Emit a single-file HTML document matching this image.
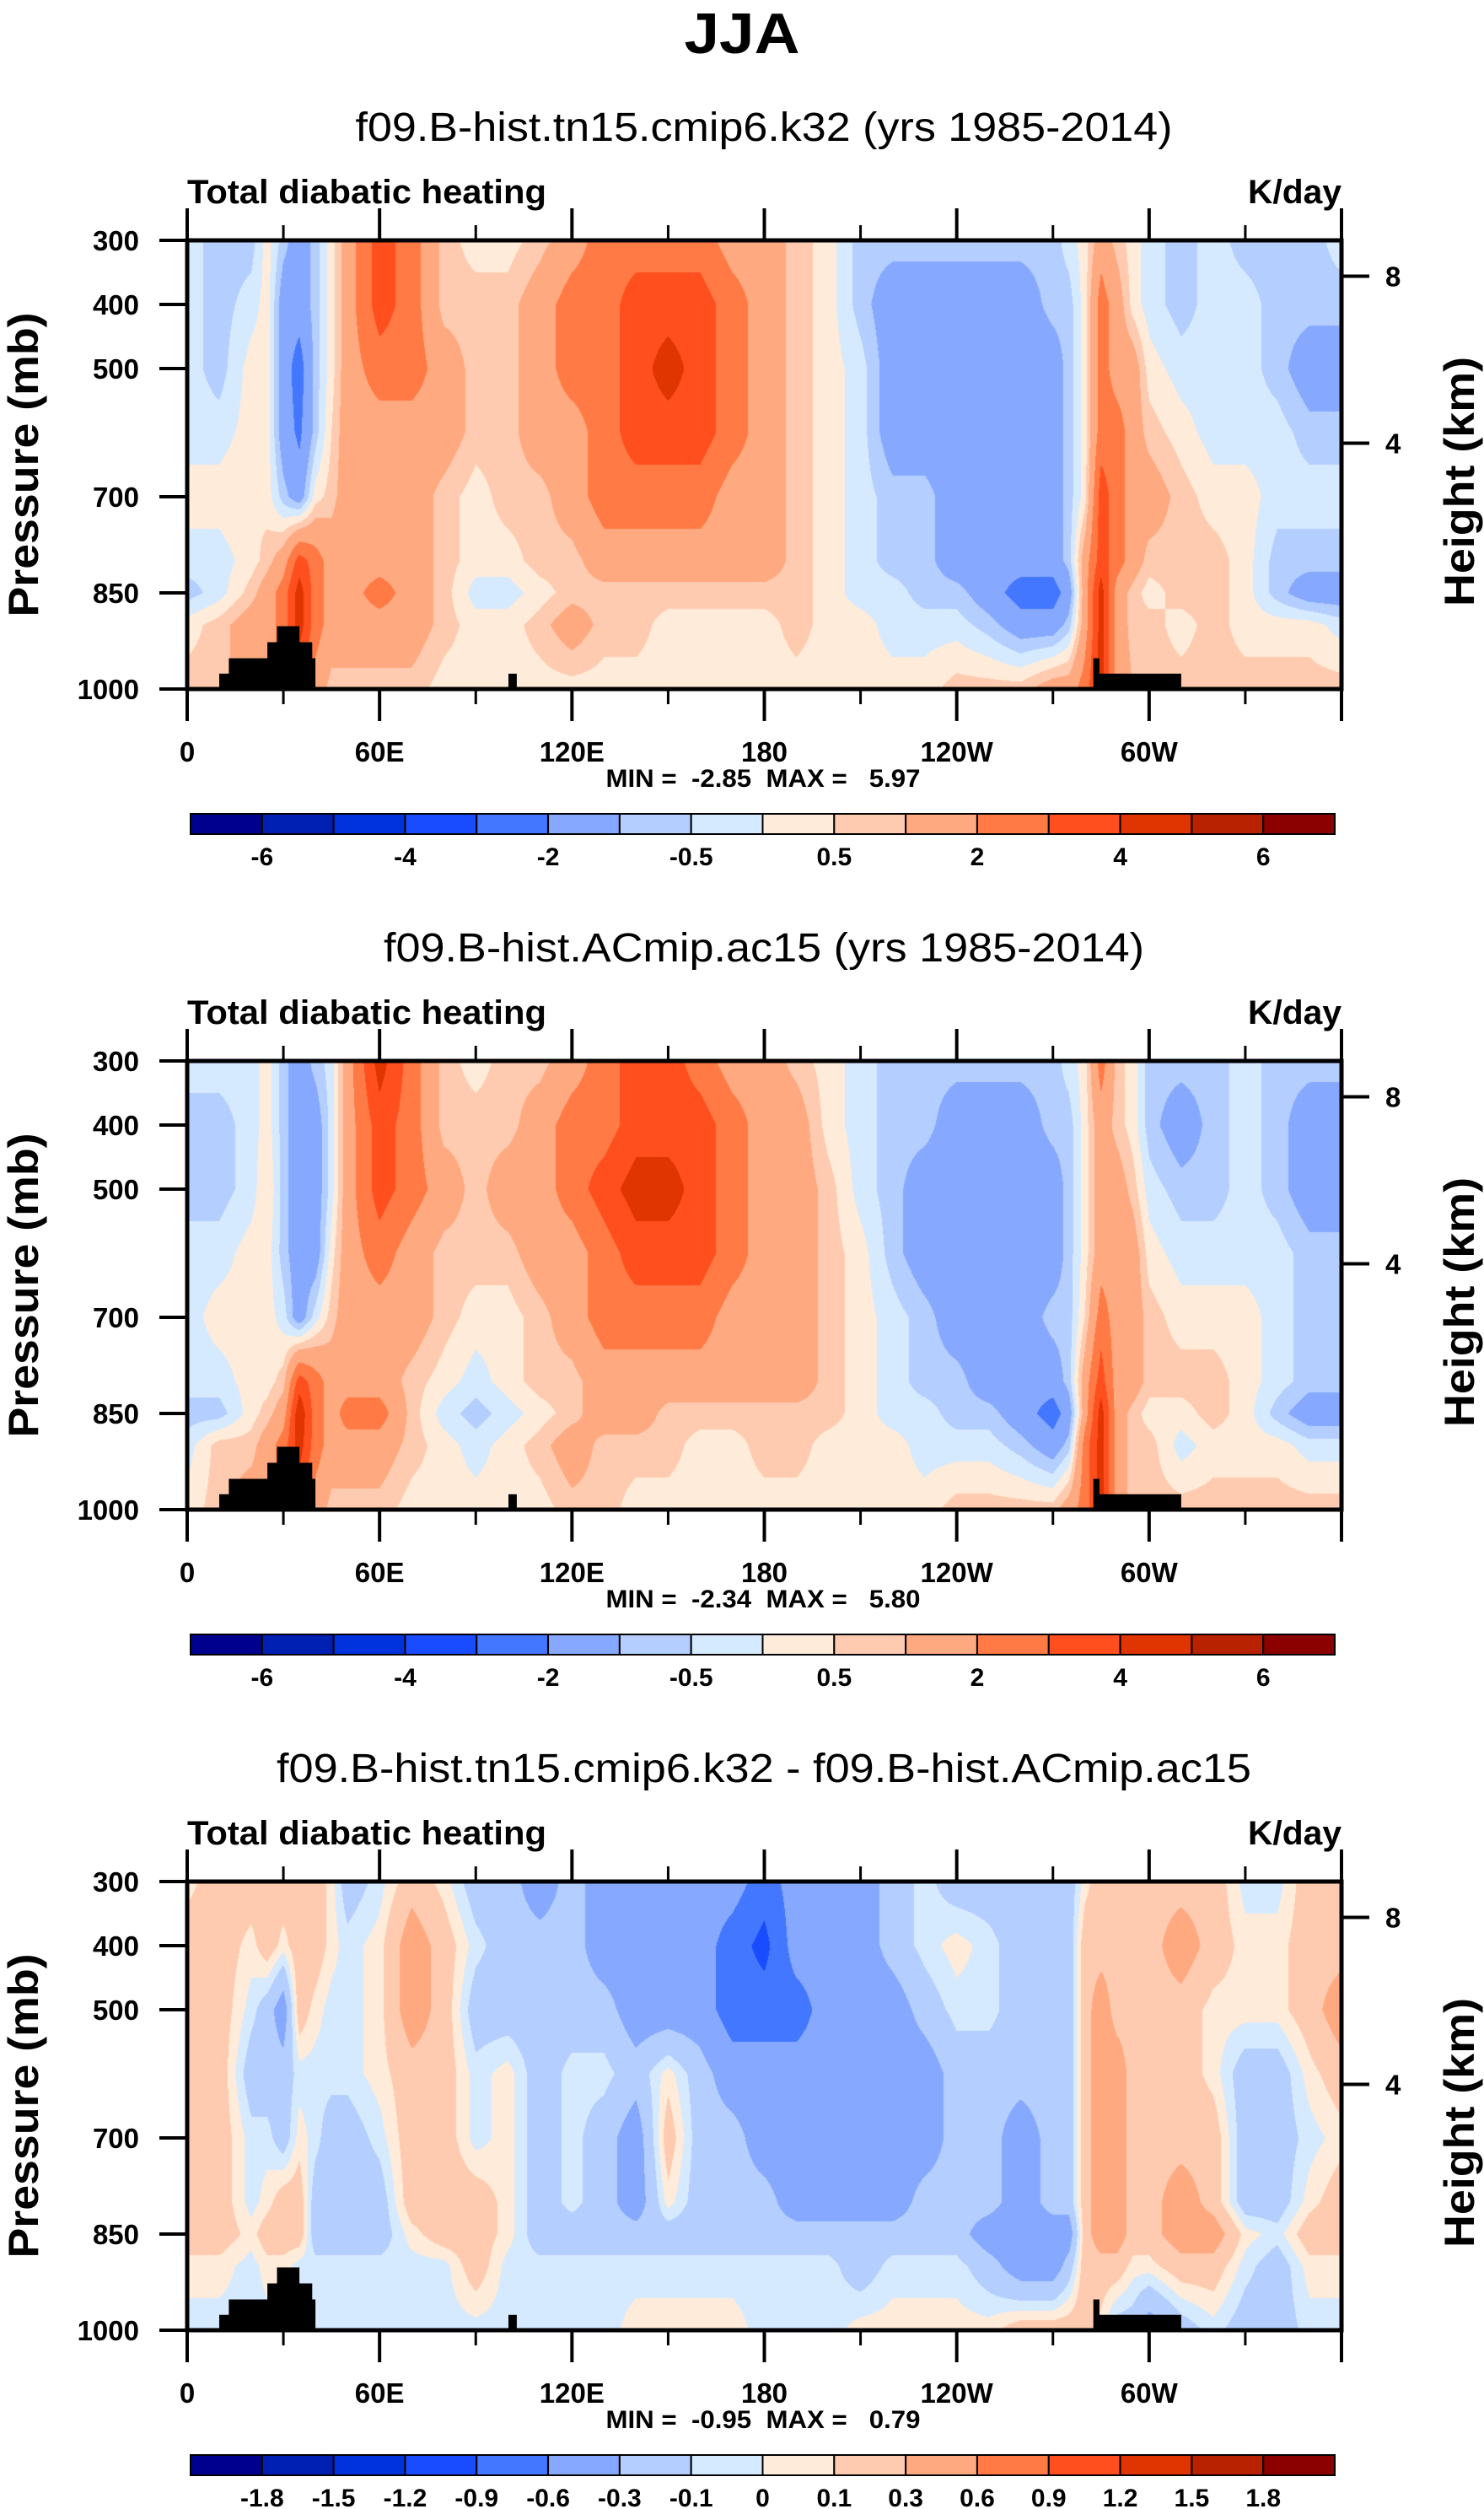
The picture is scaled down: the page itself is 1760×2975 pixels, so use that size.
<!DOCTYPE html>
<html><head><meta charset="utf-8"><title>JJA Total diabatic heating</title>
<style>
html,body{margin:0;padding:0;background:#fff;}
body{width:1760px;height:2975px;position:relative;overflow:hidden;font-family:"Liberation Sans",Arial,sans-serif;}
canvas{position:absolute;}
#fig{position:absolute;left:0;top:0;}
</style></head>
<body>
<canvas id="c1" width="1369" height="532" style="left:222px;top:285px"></canvas>
<canvas id="c2" width="1369" height="532" style="left:222px;top:1258px"></canvas>
<canvas id="c3" width="1369" height="532" style="left:222px;top:2231px"></canvas>
<svg id="fig" width="1760" height="2975" xmlns="http://www.w3.org/2000/svg">
<text x="880" y="63" text-anchor="middle" font-size="68" font-weight="bold" textLength="137" lengthAdjust="spacingAndGlyphs">JJA</text>
</svg>
<script>
const LON=[0,10,20,25,30,35,40,45,50,60,70,80,90,100,110,120,130,140,150,160,170,180,190,200,210,220,230,240,250,260,270,275,280,285,290,295,300,310,320,330,340,350,360];
const PLEV=[300,400,500,600,700,800,850,900,1000];
const heat1=[
[-0.25,-0.25,-0.25,-0.25,0.25,-0.25,-0.75,0.25,0.75],
[-0.75,-0.75,-0.75,-0.25,0.25,-0.25,-0.25,0.75,0.75],
[-0.75,-0.25,0.25,0.25,0.5,0.25,0.75,1.5,1.5],
[0.25,0.25,0.25,0.25,0.25,0.75,1.5,1.5,1.5],
[-0.75,-1.5,-1.5,-1.5,-0.75,1.5,2.5,2.5,2.5],
[-1.5,-1.5,-2.5,-2.2,-1.5,3.5,4.5,4.5,3],
[-0.75,-0.75,-0.75,-0.75,0.25,2.5,2.5,2.5,1.5],
[0.25,0.25,0.25,0.5,0.75,1.5,1.5,1.5,0.75],
[1.5,1.5,1.5,1.5,1.5,1.5,1.5,1.5,0.75],
[3.5,3.5,2.5,1.5,1.5,1.5,2.5,1.5,0.75],
[2.5,2.5,2.5,1.5,1.5,1.5,1.5,1.5,0.75],
[0.75,0.75,1.5,1.5,0.75,0.75,0.75,0.75,0.25],
[0.25,0.75,0.75,0.75,0.25,0.25,-0.25,0.25,0.25],
[0.25,0.75,0.75,0.75,0.75,0.25,-0.25,0.25,0.25],
[0.75,1.5,1.5,1.5,0.75,0.75,0.25,0.75,0.25],
[1.5,2.5,2.5,1.5,1.5,0.75,0.75,1.5,0.25],
[2.5,2.5,2.5,2.5,2.5,1.5,0.75,0.75,0.25],
[2.5,3.5,3.5,3.5,2.5,1.5,0.75,0.75,0.25],
[2.5,3.5,4.5,3.5,2.5,1.5,0.75,0.25,0.25],
[2.5,3.5,3.5,3.5,2.5,1.5,0.75,0.25,0.25],
[1.5,2.5,2.5,2.5,1.5,1.5,0.75,0.25,0.25],
[1.5,1.5,1.5,1.5,1.5,1.5,0.75,0.25,0.25],
[0.75,0.75,0.75,0.75,0.75,0.75,0.75,0.75,0.25],
[0.25,0.25,0.25,0.25,0.25,0.25,0.25,0.25,0.25],
[-0.75,-0.75,-0.25,-0.25,-0.25,-0.25,-0.25,0.25,0.25],
[-0.75,-1.5,-1.5,-1.5,-0.75,-0.75,-0.25,-0.25,0.25],
[-0.75,-1.5,-1.5,-1.5,-0.75,-0.75,-0.75,-0.25,0.25],
[-0.75,-1.5,-1.5,-1.5,-1.5,-1.5,-0.75,-0.25,0.75],
[-0.75,-1.5,-1.5,-1.5,-1.5,-1.5,-1.5,-0.75,0.75],
[-0.75,-1.5,-1.5,-1.5,-1.5,-1.5,-2.5,-1.5,0.75],
[-0.75,-0.75,-1.5,-1.5,-1.5,-1.5,-2.5,-1.5,1.5],
[-0.25,-0.75,-0.75,-0.75,-0.75,-0.75,-1.5,-0.75,1.5],
[0.25,0.25,0.25,0.25,0.25,1.5,1.5,1.5,2.5],
[1.5,2.5,2.5,2.5,3.5,3.5,4.5,4.5,4.5],
[0.75,1.5,1.5,2.5,2.5,2.5,1.5,1.5,1.5],
[0.25,0.25,1.5,1.5,1.5,1.5,0.75,0.75,1],
[-0.25,-0.25,0.25,0.75,1.5,0.75,0.25,0.75,0.75],
[-0.75,-0.75,-0.25,0.25,0.75,0.75,0.75,0.25,0.75],
[-0.25,-0.25,-0.25,-0.25,0.25,0.75,0.75,0.75,0.75],
[-0.75,-0.25,-0.25,-0.25,0.25,0.25,0.25,0.25,0.75],
[-0.75,-0.75,-0.75,-0.25,-0.25,-0.75,-0.75,0.25,0.75],
[-0.75,-0.75,-1.5,-0.75,-0.25,-0.75,-1.5,0.25,0.75],
[-0.25,-0.75,-1.5,-0.75,-0.25,-0.75,-1.5,-0.25,0.75]];
const heat2=[
[-0.25,-0.75,-0.75,-0.25,-0.25,-0.25,-0.75,-0.25,0.25],
[-0.25,-0.75,-0.75,-0.25,0.25,-0.25,-0.75,0.75,0.75],
[-0.25,-0.25,-0.25,0.25,0.25,0.25,0.25,0.75,1.5],
[0.25,0.25,0.5,0.25,0.25,0.25,0.75,1.5,1.5],
[-0.75,-0.75,-0.75,-0.75,-0.25,0.75,1.5,2.5,2.5],
[-1.5,-1.5,-1.5,-1.5,-1.5,3.5,4.8,4.5,3],
[-0.75,-1.5,-1.5,-1.5,-0.25,2.5,2.5,2.5,1.5],
[-0.25,-0.25,-0.25,0.25,0.75,1.5,1.5,1.5,0.75],
[1.5,1.5,1.5,1.5,1.5,1.5,2.5,1.5,0.75],
[4.5,3.5,3.5,2.5,1.5,1.5,2.5,1.5,0.75],
[2.5,2.5,2.5,1.5,1.5,0.75,0.75,0.75,0.25],
[0.75,0.75,1.5,0.75,0.75,0.25,-0.25,0.25,0.25],
[0.25,0.75,0.75,0.75,0.25,-0.25,-0.75,-0.25,0.25],
[0.75,0.75,1.5,0.75,0.25,0.25,-0.25,0.25,0.25],
[0.75,1.5,1.5,1.5,0.75,0.75,0.25,0.75,0.25],
[1.5,2.5,2.5,1.5,1.5,0.75,0.75,1.5,0.75],
[2.5,2.5,3.5,2.5,2.5,1.5,1.5,0.75,0.75],
[3.5,3.5,4.5,3.5,2.5,1.5,1.5,0.75,0.25],
[3.5,3.5,4.5,3.5,2.5,1.5,0.75,0.75,0.25],
[2.5,3.5,3.5,3.5,2.5,1.5,0.75,0.25,0.25],
[1.5,2.5,2.5,2.5,1.5,1.5,0.75,0.25,0.25],
[1.5,1.5,1.5,1.5,1.5,1.5,0.75,0.75,0.25],
[0.75,1.5,1.5,1.5,1.5,1.5,0.75,0.75,0.25],
[0.25,0.25,0.75,0.75,0.75,0.75,0.75,0.25,0.25],
[-0.25,-0.25,-0.25,0.25,0.25,0.25,0.25,0.25,0.25],
[-0.75,-0.75,-0.75,-0.75,-0.25,-0.25,-0.25,0.25,0.25],
[-0.75,-0.75,-1.5,-1.5,-0.75,-0.75,-0.25,-0.25,0.25],
[-0.75,-1.5,-1.5,-1.5,-1.5,-0.75,-0.75,-0.25,0.75],
[-0.75,-1.5,-1.5,-1.5,-1.5,-1.5,-0.75,-0.25,0.75],
[-0.75,-1.5,-1.5,-1.5,-1.5,-1.5,-1.5,-0.75,0.75],
[-0.75,-0.75,-1.5,-1.5,-0.75,-1.5,-2.5,-1.5,0.75],
[-0.25,-0.75,-0.75,-0.75,-0.75,-0.75,-1.5,-0.75,1.5],
[0.25,0.25,0.25,0.25,0.5,1.5,1.5,2.5,2.5],
[2.5,1.5,1.5,1.5,2.5,3.5,4.5,4.5,4.5],
[0.75,0.75,1.5,1.5,1.5,1.5,1.5,1.5,1.5],
[0.25,0.25,0.75,1.5,1.5,1.5,0.75,0.75,0.75],
[-0.75,-0.75,-0.25,0.25,0.75,0.75,0.25,0.75,0.75],
[-0.75,-1.5,-0.75,-0.25,0.25,0.75,0.25,-0.25,0.75],
[-0.75,-0.75,-0.75,-0.25,0.25,0.75,0.75,0.25,0.75],
[-0.25,-0.25,-0.25,-0.25,0.25,0.25,0.25,0.25,0.75],
[-0.75,-0.75,-0.75,-0.25,-0.25,-0.25,-0.75,0.25,0.75],
[-0.75,-1.5,-1.5,-0.75,-0.75,-0.75,-1.5,-0.25,0.75],
[-0.75,-1.5,-1.5,-0.75,-0.75,-0.75,-1.5,-0.25,0.75]];
const heat3=[
[0.05,0.2,0.2,0.2,0.2,0.2,0.2,0.05,-0.05],
[0.2,0.2,0.2,0.2,0.2,0.2,0.2,0.05,-0.05],
[0.2,0.05,-0.05,-0.2,-0.05,-0.05,0.05,-0.05,-0.05],
[0.2,0.2,-0.2,-0.2,-0.05,0.05,0.2,0.05,-0.05],
[0.2,0.05,-0.45,-0.2,-0.2,0.2,0.2,0.05,-0.05],
[0.2,0.2,0.2,-0.05,0.05,0.2,0.2,-0.05,-0.05],
[0.2,0.2,0.05,-0.05,-0.05,-0.2,-0.2,-0.05,-0.05],
[0.05,0.05,-0.05,-0.05,-0.2,-0.2,-0.2,-0.05,-0.05],
[-0.2,-0.05,-0.05,-0.05,-0.2,-0.2,-0.2,-0.05,-0.05],
[-0.05,0.05,0.05,0.05,-0.05,-0.2,-0.2,-0.05,-0.05],
[0.2,0.45,0.45,0.2,0.2,0.2,0.05,-0.05,-0.05],
[0.05,0.2,0.2,0.2,0.2,0.2,0.2,-0.05,-0.05],
[-0.2,-0.05,-0.2,-0.05,-0.05,0.2,0.2,0.2,-0.05],
[-0.2,-0.2,-0.2,0.05,0.05,0.05,0.05,-0.05,-0.05],
[-0.45,-0.2,-0.2,-0.2,-0.2,-0.2,-0.2,-0.05,-0.05],
[-0.2,-0.2,-0.2,-0.05,-0.05,-0.05,-0.2,-0.05,-0.05],
[-0.45,-0.45,-0.2,-0.05,-0.2,-0.2,-0.2,-0.05,-0.05],
[-0.45,-0.45,-0.45,-0.2,-0.45,-0.45,-0.2,-0.05,0.05],
[-0.45,-0.45,-0.45,0.05,0.2,0.05,-0.2,-0.05,0.05],
[-0.45,-0.45,-0.45,-0.2,-0.2,-0.2,-0.2,-0.05,0.05],
[-0.45,-0.75,-0.75,-0.45,-0.2,-0.2,-0.2,-0.05,0.05],
[-0.75,-1,-0.75,-0.45,-0.45,-0.2,-0.2,-0.05,-0.05],
[-0.45,-0.45,-0.75,-0.45,-0.45,-0.45,-0.2,-0.05,-0.05],
[-0.45,-0.45,-0.45,-0.45,-0.45,-0.45,-0.2,-0.05,-0.05],
[-0.45,-0.45,-0.45,-0.45,-0.45,-0.45,-0.2,-0.2,0.05],
[-0.2,-0.2,-0.45,-0.45,-0.45,-0.45,-0.2,-0.05,0.05],
[-0.05,-0.05,-0.2,-0.45,-0.45,-0.2,-0.2,-0.05,0.05],
[-0.2,0.05,-0.05,-0.2,-0.2,-0.2,-0.2,-0.05,0.05],
[-0.2,-0.05,-0.05,-0.2,-0.2,-0.2,-0.45,-0.2,0.05],
[-0.2,-0.2,-0.2,-0.2,-0.45,-0.45,-0.45,-0.45,0.2],
[-0.2,-0.2,-0.2,-0.2,-0.2,-0.2,-0.45,-0.45,0.2],
[-0.2,-0.2,-0.2,-0.2,-0.2,-0.2,-0.45,-0.2,0.2],
[0.05,0.2,0.2,0.2,0.2,0.2,0.2,0.2,0.2],
[0.2,0.2,0.45,0.45,0.45,0.45,0.45,0.2,0.05],
[0.2,0.2,0.2,0.45,0.45,0.45,0.45,0.2,-0.2],
[0.2,0.2,0.2,0.2,0.2,0.2,0.2,0.05,-0.2],
[0.2,0.2,0.2,0.2,0.2,0.2,0.2,0.05,-0.45],
[0.2,0.45,0.2,0.2,0.2,0.45,0.45,0.2,-0.2],
[0.2,0.2,0.05,0.05,0.2,0.2,0.45,0.2,-0.05],
[-0.05,0.05,0.05,-0.2,-0.2,-0.2,0.05,-0.05,-0.2],
[-0.05,0.05,0.05,-0.2,-0.2,-0.2,-0.05,-0.2,-0.2],
[0.2,0.2,0.2,0.05,-0.05,0.05,0.2,0.05,-0.05],
[0.2,0.2,0.45,0.2,0.05,0.2,0.2,0.05,-0.05]];
const levels1=[-6,-5,-4,-3,-2,-1,-0.5,0,0.5,1,2,3,4,5,6];
const levels3=[-1.8,-1.5,-1.2,-0.9,-0.6,-0.3,-0.1,0,0.1,0.3,0.6,0.9,1.2,1.5,1.8];
const cbLabels1=['-6','-4','-2','-0.5','0.5','2','4','6'];
const cbLabels3=['-1.8','-1.5','-1.2','-0.9','-0.6','-0.3','-0.1','0','0.1','0.3','0.6','0.9','1.2','1.5','1.8'];
const lonTicks=[0,60,120,180,240,300];
const lonTickLabels=['0','60E','120E','180','120W','60W'];
const lonMinor=[30,90,150,210,270,330,360];
const presTicks=[300,400,500,700,850,1000];
const heightTicks=[8,4];
const topoLon=[10,10,13,13,25,25,28,28,35,35,39,39,40,40];
const topoP=[1000,976,976,952,952,927,927,902,902,927,927,952,952,1000];
const topo2Lon=[100.2,100.2,102.8,102.8];
const topo2P=[1000,976,976,1000];
const topo3Lon=[282.6,282.6,284.5,284.5,310,310];
const topo3P=[1000,952,952,976,976,1000];
const titles=['f09.B-hist.tn15.cmip6.k32 (yrs 1985-2014)','f09.B-hist.ACmip.ac15 (yrs 1985-2014)','f09.B-hist.tn15.cmip6.k32 - f09.B-hist.ACmip.ac15'];
const titleWidths=[969,902,1156];
const minmax=['MIN =  -2.85  MAX =   5.97','MIN =  -2.34  MAX =   5.80','MIN =  -0.95  MAX =   0.79'];
const COLORS=['#00008f','#0020b4','#0033dd','#1a4cff','#4477ff','#86a9ff','#b4ceff','#d6eaff','#ffebd9','#ffcbb0','#ffa980','#ff7a45','#ff4f1e','#e03500','#b82200','#8b0000'];

const L=222,R=1591,PH=532,TOPS=[285,1258,2231];
const xOf=lon=>L+lon/360*(R-L);
const yOf=(p,top)=>top+(p-300)/700*PH;
function hex(h){return [parseInt(h.slice(1,3),16),parseInt(h.slice(3,5),16),parseInt(h.slice(5,7),16)];}
function drawField(id,data,bounds){
  const cv=document.getElementById(id);const w=cv.width,h=cv.height;
  const ctx=cv.getContext('2d');const img=ctx.createImageData(w,h);const cols=COLORS.map(hex);
  const jy=[],ty=[];
  for(let y=0;y<h;y++){const p=300+(y+0.5)/h*700;let j=0;while(j<PLEV.length-2&&p>PLEV[j+1])j++;jy.push(j);ty.push((p-PLEV[j])/(PLEV[j+1]-PLEV[j]));}
  for(let x=0;x<w;x++){
    const lon=(x+0.5)/w*360;let i=0;while(i<LON.length-2&&lon>LON[i+1])i++;
    const tx=(lon-LON[i])/(LON[i+1]-LON[i]);
    const a=data[i],b=data[i+1];
    for(let y=0;y<h;y++){
      const j=jy[y],t=ty[y];
      const v0=a[j]*(1-t)+a[j+1]*t,v1=b[j]*(1-t)+b[j+1]*t;
      const v=v0*(1-tx)+v1*tx;
      let k=0;while(k<bounds.length&&v>bounds[k])k++;
      const c=cols[k],o=(y*w+x)*4;img.data[o]=c[0];img.data[o+1]=c[1];img.data[o+2]=c[2];img.data[o+3]=255;
    }
  }
  ctx.putImageData(img,0,0);
}
drawField('c1',heat1,levels1);
drawField('c2',heat2,levels1);
drawField('c3',heat3,levels3);

const svg=document.getElementById('fig');const NS='http://www.w3.org/2000/svg';
function mk(tag,attrs,txt){const e=document.createElementNS(NS,tag);for(const k in attrs)e.setAttribute(k,attrs[k]);if(txt!==undefined)e.textContent=txt;svg.appendChild(e);return e;}
function zOfHeight(km){return 1013.25*Math.pow(1-2.25577e-5*km*1000,5.25588);}
for(let n=0;n<3;n++){
  const top=TOPS[n],off=n*973,bot=top+PH;
  let e=mk('text',{x:906,y:167+off,'text-anchor':'middle','font-size':48,textLength:titleWidths[n],lengthAdjust:'spacingAndGlyphs'},titles[n]);
  
  
  e=mk('text',{x:222,y:241+off,'font-size':40,'font-weight':'bold',textLength:426,lengthAdjust:'spacingAndGlyphs'},'Total diabatic heating');
  
  
  e=mk('text',{x:1591,y:241+off,'font-size':40,'font-weight':'bold','text-anchor':'end',textLength:111,lengthAdjust:'spacingAndGlyphs'},'K/day');
  
  
  [[topoLon,topoP],[topo2Lon,topo2P],[topo3Lon,topo3P]].forEach(([lo,pp])=>{
    const pts=lo.map((l,i)=>xOf(l).toFixed(1)+','+yOf(pp[i],top).toFixed(1)).join(' ');
    const t=mk('polygon',{points:pts,fill:'#000'});
    
    
  });
  e=mk('rect',{x:L,y:top,width:R-L,height:PH,fill:'none',stroke:'#000','stroke-width':5});
  
  
  lonTicks.concat([360]).forEach(l=>{
    const x=xOf(l);
    let t=mk('line',{x1:x,x2:x,y1:top,y2:top-38,stroke:'#000','stroke-width':4});
    
    
    t=mk('line',{x1:x,x2:x,y1:bot,y2:bot+38,stroke:'#000','stroke-width':4});
    
    
  });
  lonMinor.forEach(l=>{
    const x=xOf(l);
    let t=mk('line',{x1:x,x2:x,y1:top,y2:top-18,stroke:'#000','stroke-width':3});
    
    
    t=mk('line',{x1:x,x2:x,y1:bot,y2:bot+18,stroke:'#000','stroke-width':3});
    
    
  });
  lonTicks.forEach((l,i)=>{
    const t=mk('text',{x:xOf(l),y:903+off,'text-anchor':'middle','font-size':33,'font-weight':'bold'},lonTickLabels[i]);
    
    
  });
  presTicks.forEach(p=>{
    const y=yOf(p,top);
    let t=mk('line',{x1:L,x2:L-33,y1:y,y2:y,stroke:'#000','stroke-width':4});
    
    
    t=mk('text',{x:165,y:y+12,'text-anchor':'end','font-size':33,'font-weight':'bold'},String(p));
    
    
  });
  heightTicks.forEach(km=>{
    const y=yOf(zOfHeight(km),top);
    let t=mk('line',{x1:R,x2:R+33,y1:y,y2:y,stroke:'#000','stroke-width':4});
    
    
    t=mk('text',{x:1643,y:y+12,'font-size':33,'font-weight':'bold'},String(km));
    
    
  });
  e=mk('text',{x:0,y:0,'font-size':50,'font-weight':'bold','text-anchor':'middle',textLength:361,lengthAdjust:'spacingAndGlyphs',transform:`translate(45,${top+PH/2}) rotate(-90)`},'Pressure (mb)');
  
  
  e=mk('text',{x:0,y:0,'font-size':50,'font-weight':'bold','text-anchor':'middle',textLength:296,lengthAdjust:'spacingAndGlyphs',transform:`translate(1748,${top+PH/2+20}) rotate(-90)`},'Height (km)');
  
  
  e=mk('text',{x:905,y:933+off,'text-anchor':'middle','font-size':30,'font-weight':'bold',textLength:373,lengthAdjust:'spacingAndGlyphs'},minmax[n].replace(/ /g,'\u00a0'));
  
  
  const cbL=226,cbR=1583,cbT=965+off,cbH=24,bw=(cbR-cbL)/16;
  COLORS.forEach((c,i)=>{
    const r=mk('rect',{x:cbL+i*bw,y:cbT,width:bw,height:cbH,fill:c,stroke:'#000','stroke-width':2});
    
    
  });
  const labs=n<2?cbLabels1:cbLabels3,stepI=n<2?2:1;
  labs.forEach((s,i)=>{
    const t=mk('text',{x:cbL+(i*stepI+1)*bw,y:1026+off,'text-anchor':'middle','font-size':30,'font-weight':'bold'},s);
    
    
  });
}
</script>
</body></html>
